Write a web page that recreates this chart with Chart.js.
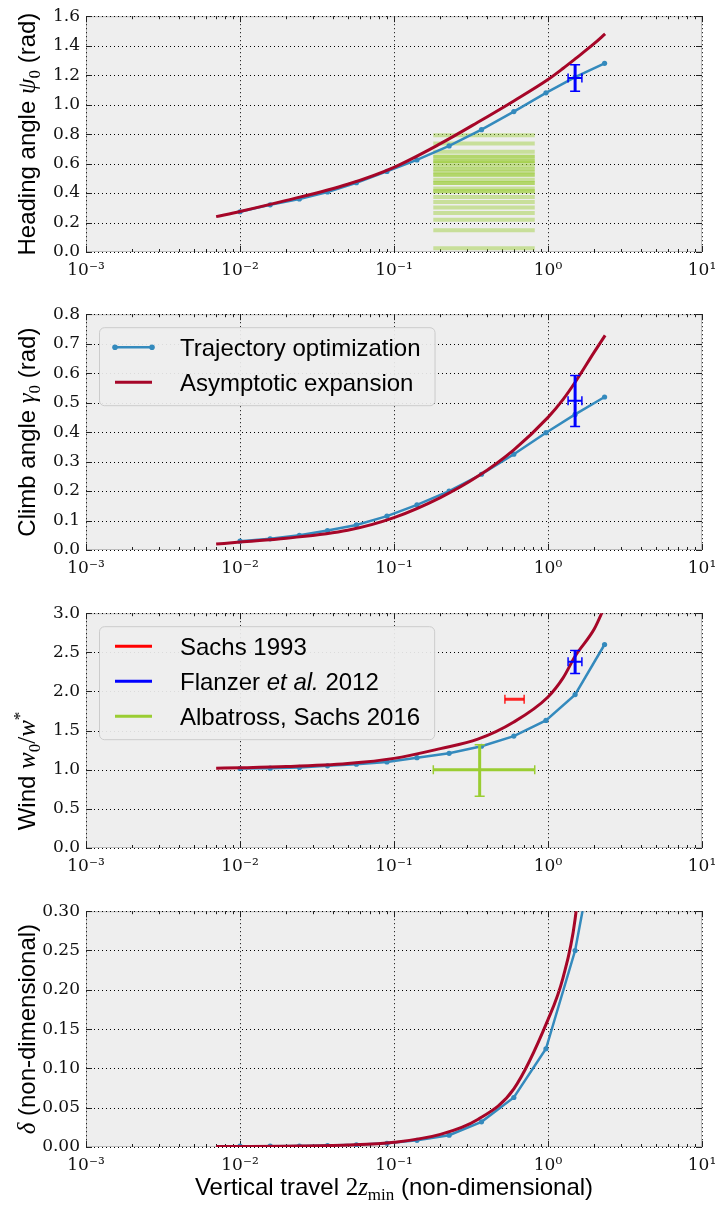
<!DOCTYPE html>
<html>
<head>
<meta charset="utf-8">
<title>Dynamic soaring: trajectory optimization vs asymptotic expansion</title>
<script src="https://cdn.jsdelivr.net/npm/chart.js@4.4.1/dist/chart.umd.min.js"></script>
<style>
  html, body { margin: 0; padding: 0; background: #fff; }
  #wrap { position: relative; width: 715px; height: 1205px; overflow: hidden; }
  #wrap canvas { position: absolute; left: 0; }
</style>
</head>
<body>
<div id="wrap">
  <canvas id="heading" width="715" height="297" style="top:0px"></canvas>
  <canvas id="climb" width="715" height="297" style="top:298px"></canvas>
  <canvas id="wind" width="715" height="296" style="top:597px"></canvas>
  <canvas id="delta" width="715" height="310" style="top:895px"></canvas>
</div>
<script>
// ── Axis ticks ──
const decadeTicks = [1e-3, 1e-2, 1e-1, 1, 10];
const decadeLabels = ['10⁻³', '10⁻²', '10⁻¹', '10⁰', '10¹'];
const headingTicks = [0, 0.2, 0.4, 0.6, 0.8, 1.0, 1.2, 1.4, 1.6];
const climbTicks = [0, 0.1, 0.2, 0.3, 0.4, 0.5, 0.6, 0.7, 0.8];
const windTicks = [0, 0.5, 1.0, 1.5, 2.0, 2.5, 3.0];
const deltaTicks = [0, 0.05, 0.10, 0.15, 0.20, 0.25, 0.30];

// ── Trajectory optimization (blue, markers) ──
const trajX = [0.01, 0.0157, 0.0243, 0.037, 0.057, 0.09, 0.141, 0.228, 0.37, 0.6, 0.97, 1.5, 2.33];
const trajHeading = [0.273, 0.32, 0.36, 0.407, 0.47, 0.547, 0.625, 0.72, 0.83, 0.953, 1.08, 1.187, 1.28];
const trajClimb = [0.03, 0.038, 0.05, 0.066, 0.085, 0.115, 0.153, 0.2, 0.257, 0.325, 0.398, 0.46, 0.519];
const trajWind = [1.016, 1.02, 1.03, 1.05, 1.07, 1.10, 1.154, 1.21, 1.30, 1.43, 1.63, 1.96, 2.60];
const trajDelta = [0.001, 0.001, 0.0013, 0.0018, 0.0028, 0.0048, 0.0085, 0.015, 0.032, 0.063, 0.125, 0.25, 0.45];

// ── Asymptotic expansion (red, smooth) ──
const asymX = [0.007, 0.01, 0.02, 0.05, 0.1, 0.2, 0.35, 0.6, 1.0, 1.25, 1.5, 2.0, 2.35];
const asymHeading = [0.24, 0.275, 0.35, 0.46, 0.575, 0.735, 0.88, 1.025, 1.17, 1.245, 1.31, 1.415, 1.48];
const asymClimb = [0.02, 0.027, 0.04, 0.067, 0.11, 0.178, 0.25, 0.34, 0.45, 0.51, 0.569, 0.672, 0.728];
const asymWind = [1.02, 1.025, 1.04, 1.08, 1.145, 1.27, 1.39, 1.61, 1.93, 2.17, 2.45, 2.8, 3.1];
const asymDelta = [0.0005, 0.0006, 0.001, 0.0025, 0.006, 0.016, 0.035, 0.074, 0.162, 0.215, 0.29, 0.55, 0.75];

// ── Measurements (low, centre, high) ──
const flanzerX = [1.35, 1.5, 1.66];
const flanzerHeading = [1.09, 1.18, 1.27];
const flanzerClimb = [0.419, 0.506, 0.592];
const flanzerWind = [2.23, 2.38, 2.525];
const sachs1993X = [0.525, 0.6, 0.70];
const sachs1993Wind = [1.9, 1.9, 1.9];
const albatrossX = [0.18, 0.36, 0.82];
const albatrossWind = [0.66, 1.0, 1.32];
const albatrossHeading = [0.793, 0.736, 0.68, 0.647, 0.647, 0.618, 0.618, 0.602, 0.58, 0.562, 0.547,
  0.524, 0.524, 0.491, 0.469, 0.469, 0.431, 0.413, 0.413, 0.373, 0.34, 0.302, 0.264, 0.218, 0.147, 0.025];

// ── Styles ──
const BLUE = '#348ABD';
const RED = '#A60628';
const EB_BLUE = '#0000ff';
const EB_RED = 'rgba(255,0,0,0.85)';
const EB_GREEN = '#9acd32';
const F_SANS = '24px "Liberation Sans", Arial, sans-serif';
const F_SANS_IT = 'italic 24px "Liberation Sans", Arial, sans-serif';
const F_MATH = 'italic 25px "Liberation Serif", serif';
const F_ROMAN = '25px "Liberation Serif", serif';
const F_SUB = '17px "Liberation Serif", serif';
const TICK_FONT = { family: '"DejaVu Serif", serif', size: 17 };

const pts = (xs, ys) => xs.map((x, i) => ({ x, y: ys[i] }));

function trajSet(ys) {
  return {
    data: pts(trajX, ys), borderColor: BLUE, backgroundColor: BLUE, borderWidth: 2.5,
    pointRadius: 2.6, pointBorderWidth: 0, pointHoverRadius: 0, clip: 0
  };
}
function asymSet(ys) {
  return {
    data: pts(asymX, ys), borderColor: RED, borderWidth: 3, pointRadius: 0,
    cubicInterpolationMode: 'monotone', clip: 0
  };
}

function line(ctx, x0, y0, x1, y1) {
  ctx.beginPath(); ctx.moveTo(x0, y0); ctx.lineTo(x1, y1); ctx.stroke();
}

// rich text: runs of {text, font, dy}
function drawRuns(ctx, runs, x, y, opts = {}) {
  ctx.save();
  ctx.translate(x, y);
  if (opts.vertical) ctx.rotate(-Math.PI / 2);
  ctx.textAlign = 'left';
  ctx.textBaseline = opts.baseline || 'alphabetic';
  ctx.fillStyle = '#000';
  let total = 0;
  const widths = runs.map(r => { ctx.font = r.font; const w = ctx.measureText(r.text).width; total += w; return w; });
  let cx = opts.left ? 0 : -total / 2;
  runs.forEach((r, i) => { ctx.font = r.font; ctx.fillText(r.text, cx, r.dy || 0); cx += widths[i]; });
  ctx.restore();
  return total;
}

function drawErrorBar(ctx, xs, ys, eb) {
  const [xl, xc, xh] = eb.xs.map(v => xs.getPixelForValue(v));
  const [yl, yc, yh] = eb.ys.map(v => ys.getPixelForValue(v));
  ctx.strokeStyle = eb.color;
  if (xh - xl > 1) {
    ctx.lineWidth = eb.hw || 2;
    line(ctx, xl, yc, xh, yc);
    ctx.lineWidth = 1.5;
    line(ctx, xl, yc - 4.5, xl, yc + 4.5);
    line(ctx, xh, yc - 4.5, xh, yc + 4.5);
  }
  if (Math.abs(yh - yl) > 1) {
    ctx.lineWidth = eb.vw || 3;
    line(ctx, xc, yl, xc, yh);
    ctx.lineWidth = 1.5;
    line(ctx, xc - 5, yl, xc + 5, yl);
    line(ctx, xc - 5, yh, xc + 5, yh);
  }
}

function drawLegend(ctx, area, entries) {
  const left = area.left + 13, top = area.top + 13;
  ctx.save();
  let maxW = 0;
  entries.forEach(e => {
    let w = 0;
    e.runs.forEach(r => { ctx.font = r.font; w += ctx.measureText(r.text).width; });
    maxW = Math.max(maxW, w);
  });
  const w = 81 + maxW + 14;
  const h = 20 + (entries.length - 1) * 35 + 23;
  ctx.beginPath();
  ctx.roundRect(left + 0.5, top + 0.5, w, h, 5);
  ctx.fillStyle = 'rgba(238,238,238,0.92)';
  ctx.fill();
  ctx.strokeStyle = '#cccccc';
  ctx.lineWidth = 1;
  ctx.stroke();
  entries.forEach((e, i) => {
    const cy = top + 20 + i * 35;
    ctx.strokeStyle = e.color;
    ctx.lineWidth = e.lw || 3;
    line(ctx, left + 16, cy, left + 53, cy);
    if (e.markers) {
      ctx.fillStyle = e.color;
      [left + 16, left + 53].forEach(px => { ctx.beginPath(); ctx.arc(px, cy, 2.8, 0, Math.PI * 2); ctx.fill(); });
    }
    drawRuns(ctx, e.runs, left + 81, cy + 8.5, { left: true });
  });
  ctx.restore();
}

function makeDecor(cfg) {
  return {
    id: 'decor',
    beforeDatasetsDraw(chart) {
      const { ctx, chartArea: a, scales: { x, y } } = chart;
      ctx.save();
      ctx.fillStyle = '#eeeeee';
      ctx.fillRect(a.left, a.top, a.right - a.left, a.bottom - a.top);
      ctx.strokeStyle = '#bcbcbc';
      ctx.lineWidth = 1;
      ctx.strokeRect(a.left + 0.5, a.top + 0.5, a.right - a.left - 1, a.bottom - a.top - 1);
      // dotted grid
      ctx.strokeStyle = '#000';
      ctx.setLineDash([1, 3]);
      decadeTicks.forEach(v => {
        const px = Math.round(x.getPixelForValue(v)) + 0.5;
        line(ctx, px, a.top, px, a.bottom);
      });
      cfg.yTicks.forEach(v => {
        const py = Math.round(y.getPixelForValue(v)) + 0.5;
        line(ctx, a.left, py, a.right, py);
      });
      ctx.setLineDash([]);
      // inward tick marks
      ctx.strokeStyle = '#222';
      decadeTicks.forEach((d, i) => {
        const px = Math.round(x.getPixelForValue(d)) + 0.5;
        line(ctx, px, a.bottom, px, a.bottom - 6);
        line(ctx, px, a.top, px, a.top + 6);
        if (i === decadeTicks.length - 1) return;
        for (let k = 2; k <= 9; k++) {
          const mx = Math.round(x.getPixelForValue(d * k)) + 0.5;
          line(ctx, mx, a.bottom, mx, a.bottom - 3);
          line(ctx, mx, a.top, mx, a.top + 3);
        }
      });
      cfg.yTicks.forEach(v => {
        const py = Math.round(y.getPixelForValue(v)) + 0.5;
        line(ctx, a.left, py, a.left + 6, py);
        line(ctx, a.right, py, a.right - 6, py);
      });
      ctx.restore();
    },
    afterDatasetsDraw(chart) {
      const { ctx, chartArea: a, scales: { x, y } } = chart;
      ctx.save();
      ctx.beginPath();
      ctx.rect(a.left, a.top, a.right - a.left, a.bottom - a.top);
      ctx.clip();
      (cfg.errorBars || []).forEach(eb => drawErrorBar(ctx, x, y, eb));
      ctx.restore();
      if (cfg.legend) drawLegend(ctx, a, cfg.legend);
    },
    afterDraw(chart) {
      const { ctx, chartArea: a } = chart;
      const cy = cfg.titleCenter != null ? cfg.titleCenter : (a.top + a.bottom) / 2;
      drawRuns(ctx, cfg.title, 35, cy, { vertical: true });
      if (cfg.xTitle) drawRuns(ctx, cfg.xTitle, (a.left + a.right) / 2, cfg.xTitleY);
    }
  };
}

function makePanel(id, cfg) {
  const yT = cfg.yTicks;
  return new Chart(document.getElementById(id), {
    type: 'line',
    data: { datasets: cfg.datasets },
    options: {
      responsive: false,
      animation: false,
      devicePixelRatio: 1,
      events: [],
      layout: { padding: { top: 12, right: 13, left: 0, bottom: 0 } },
      plugins: { legend: { display: false }, tooltip: { enabled: false } },
      scales: {
        x: {
          type: 'logarithmic', min: 1e-3, max: 10,
          afterBuildTicks: s => { s.ticks = decadeTicks.map(v => ({ value: v, major: true })); },
          afterFit: s => { s.height = cfg.xAxisH; s.paddingLeft = 0; s.paddingRight = 0; },
          grid: { display: false, drawTicks: false },
          border: { display: false },
          ticks: {
            autoSkip: false, maxRotation: 0, padding: 8, color: '#111', font: TICK_FONT,
            callback: (v, i) => decadeLabels[i]
          }
        },
        y: {
          type: 'linear', min: yT[0], max: yT[yT.length - 1],
          afterBuildTicks: s => { s.ticks = yT.map(v => ({ value: v })); },
          afterFit: s => { s.width = 86; },
          grid: { display: false, drawTicks: false },
          border: { display: false },
          ticks: {
            padding: 6, color: '#111', font: TICK_FONT,
            callback: v => Number(v).toFixed(cfg.yDec)
          }
        }
      }
    },
    plugins: [makeDecor(cfg)]
  });
}

// ── Panel 1: heading angle ──
makePanel('heading', {
  yTicks: headingTicks, yDec: 1, xAxisH: 45,
  title: [
    { text: 'Heading angle ', font: F_SANS },
    { text: 'ψ', font: F_MATH },
    { text: '0', font: F_SUB, dy: 5 },
    { text: ' (rad)', font: F_SANS }
  ],
  datasets: [
    asymSet(asymHeading),
    trajSet(trajHeading),
    ...albatrossHeading.map(v => ({
      data: [{ x: albatrossX[0], y: v }, { x: albatrossX[2], y: v }],
      borderColor: 'rgba(154,205,50,0.45)', borderWidth: 4, pointRadius: 0, clip: 0
    }))
  ],
  errorBars: [{ xs: flanzerX, ys: flanzerHeading, color: EB_BLUE, hw: 2, vw: 3 }]
});

// ── Panel 2: climb angle ──
makePanel('climb', {
  yTicks: climbTicks, yDec: 1, xAxisH: 45,
  title: [
    { text: 'Climb angle ', font: F_SANS },
    { text: 'γ', font: F_MATH },
    { text: '0', font: F_SUB, dy: 5 },
    { text: ' (rad)', font: F_SANS }
  ],
  datasets: [asymSet(asymClimb), trajSet(trajClimb)],
  errorBars: [{ xs: flanzerX, ys: flanzerClimb, color: EB_BLUE, hw: 2, vw: 3 }],
  legend: [
    { runs: [{ text: 'Trajectory optimization', font: F_SANS }], color: BLUE, lw: 2.5, markers: true },
    { runs: [{ text: 'Asymptotic expansion', font: F_SANS }], color: RED, lw: 3 }
  ]
});

// ── Panel 3: wind ──
makePanel('wind', {
  yTicks: windTicks, yDec: 1, xAxisH: 45, titleCenter: 174,
  title: [
    { text: 'Wind ', font: F_SANS },
    { text: 'w', font: F_MATH },
    { text: '0', font: F_SUB, dy: 5 },
    { text: '/', font: F_ROMAN },
    { text: 'w', font: F_MATH },
    { text: '*', font: F_SUB, dy: -10 }
  ],
  datasets: [asymSet(asymWind), trajSet(trajWind)],
  errorBars: [
    { xs: sachs1993X, ys: sachs1993Wind, color: EB_RED, hw: 3 },
    { xs: flanzerX, ys: flanzerWind, color: EB_BLUE, hw: 2, vw: 3 },
    { xs: albatrossX, ys: albatrossWind, color: EB_GREEN, hw: 3, vw: 3 }
  ],
  legend: [
    { runs: [{ text: 'Sachs 1993', font: F_SANS }], color: '#ff0000' },
    { runs: [{ text: 'Flanzer ', font: F_SANS }, { text: 'et al.', font: F_SANS_IT }, { text: ' 2012', font: F_SANS }], color: '#0000ff' },
    { runs: [{ text: 'Albatross, Sachs 2016', font: F_SANS }], color: EB_GREEN }
  ]
});

// ── Panel 4: delta ──
makePanel('delta', {
  yTicks: deltaTicks, yDec: 2, xAxisH: 58,
  title: [
    { text: 'δ', font: F_MATH },
    { text: ' (non-dimensional)', font: F_SANS }
  ],
  datasets: [asymSet(asymDelta), trajSet(trajDelta)],
  xTitle: [
    { text: 'Vertical travel ', font: F_SANS },
    { text: '2', font: F_ROMAN },
    { text: 'z', font: F_MATH },
    { text: 'min', font: F_SUB, dy: 5 },
    { text: ' (non-dimensional)', font: F_SANS }
  ],
  xTitleY: 300
});
</script>
</body>
</html>
